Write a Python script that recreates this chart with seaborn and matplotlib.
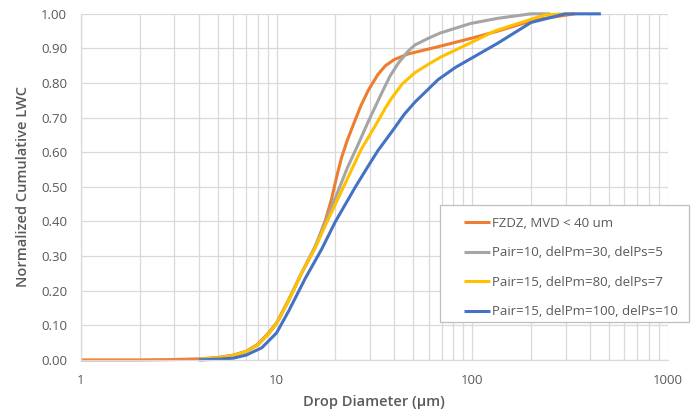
import numpy as np
import pandas as pd
import matplotlib
matplotlib.use("Agg")
import matplotlib.pyplot as plt
from matplotlib.patches import Rectangle
from matplotlib.ticker import LogLocator, FixedLocator, FuncFormatter, NullFormatter
import seaborn as sns

# Cumulative liquid water content vs. drop diameter (µm)
series_names = [
    "FZDZ, MVD < 40 um",
    "Pair=10, delPm=30, delPs=5",
    "Pair=15, delPm=80, delPs=7",
    "Pair=15, delPm=100, delPs=10",
]

fzdz_d = [1, 2, 3, 4, 5, 6, 7, 8, 9, 10, 11.5, 13.4, 15.8, 17.8, 19.1, 20.3,
          21.5, 23, 24.7, 27, 29.5, 33, 36, 40, 47, 67, 100, 135, 210, 335]
fzdz_lwc = [0, 0, 0.001, 0.003, 0.007, 0.014, 0.025, 0.045, 0.075, 0.107, 0.173,
            0.25, 0.327, 0.405, 0.465, 0.53, 0.585, 0.635, 0.68, 0.735, 0.78,
            0.825, 0.85, 0.868, 0.884, 0.905, 0.93, 0.95, 0.983, 1.0]

p10_d = [4, 5, 6, 7, 8, 9, 10, 11.5, 13.4, 15.8, 17.8, 20.7, 23, 26, 29.5,
         34.4, 38, 42, 47, 51, 60, 69, 98, 135, 200, 250]
p10_lwc = [0.002, 0.006, 0.013, 0.024, 0.043, 0.072, 0.105, 0.17, 0.25, 0.33,
           0.40, 0.49, 0.555, 0.62, 0.69, 0.77, 0.82, 0.858, 0.892, 0.91,
           0.93, 0.945, 0.972, 0.987, 1.0, 1.0]

p15a_d = [4, 5, 6, 7, 8, 9, 10, 11.5, 13.4, 15.8, 17.8, 22, 27, 33, 36, 38.6,
          44, 51, 60, 69, 98, 130, 235, 300]
p15a_lwc = [0.002, 0.006, 0.013, 0.024, 0.043, 0.072, 0.105, 0.17, 0.25, 0.325,
            0.39, 0.50, 0.607, 0.69, 0.728, 0.755, 0.798, 0.83, 0.855, 0.875,
            0.916, 0.95, 0.997, 1.0]

p15b_d = [4, 5, 6, 7, 8.4, 10, 11.5, 14, 17, 20, 25.3, 30, 33, 39.5, 45, 51,
          67, 82, 98, 135, 200, 300, 455]
p15b_lwc = [0, 0.002, 0.005, 0.014, 0.035, 0.078, 0.14, 0.235, 0.32, 0.40,
            0.50, 0.568, 0.605, 0.665, 0.71, 0.745, 0.81, 0.845, 0.87, 0.915,
            0.975, 1.0, 1.0]

line_colors = ["#ED7D31", "#A5A5A5", "#FFC000", "#4472C4"]

y_ticks = [0.0, 0.1, 0.2, 0.3, 0.4, 0.5, 0.6, 0.7, 0.8, 0.9, 1.0]
x_ticks = [1, 10, 100, 1000]

frames = []
for name, d, v in zip(series_names,
                      [fzdz_d, p10_d, p15a_d, p15b_d],
                      [fzdz_lwc, p10_lwc, p15a_lwc, p15b_lwc]):
    frames.append(pd.DataFrame({"diameter": d, "lwc": v, "series": name}))
df = pd.concat(frames, ignore_index=True)

sns.set_theme(style="white")
plt.rcParams["font.family"] = ["Open Sans", "DejaVu Sans"]

text_gray = "#595959"
grid_gray = "#D9D9D9"

fig = plt.figure(figsize=(6.92, 4.19), dpi=100)
ax = fig.add_axes([0.117, 0.141, 0.848, 0.826])

sns.lineplot(data=df, x="diameter", y="lwc", hue="series",
             hue_order=series_names, palette=line_colors,
             estimator=None, linewidth=2.2, ax=ax, legend=True)
for ln in ax.lines:
    ln.set_clip_on(False)
    ln.set_solid_capstyle("butt")
    ln.set_solid_joinstyle("round")

ax.set_xscale("log")
ax.set_xlim(1, 1000)
ax.set_ylim(0, 1.0)

ax.xaxis.set_major_locator(FixedLocator(x_ticks))
ax.xaxis.set_major_formatter(FuncFormatter(lambda v, p: f"{int(round(v))}"))
ax.xaxis.set_minor_locator(LogLocator(base=10, subs=np.arange(2, 10)))
ax.xaxis.set_minor_formatter(NullFormatter())
ax.yaxis.set_major_locator(FixedLocator(y_ticks))
ax.yaxis.set_major_formatter(FuncFormatter(lambda v, p: f"{v:.2f}"))

ax.grid(True, which="major", axis="both", color=grid_gray, linewidth=0.9)
ax.grid(True, which="minor", axis="x", color=grid_gray, linewidth=0.9)
ax.set_axisbelow(True)

for side in ["top", "right"]:
    ax.spines[side].set_visible(False)
for side in ["left", "bottom"]:
    ax.spines[side].set_color(grid_gray)
    ax.spines[side].set_linewidth(0.9)

ax.tick_params(axis="both", which="both", length=0, colors=text_gray,
               labelsize=9.5)
ax.tick_params(axis="x", pad=10)
ax.tick_params(axis="y", pad=10)

ax.set_xlabel("Drop Diameter (\u03bcm)", color=text_gray, fontsize=10.5,
              fontweight="semibold", labelpad=6)
ax.set_ylabel("Normalized Cumulative LWC", color=text_gray, fontsize=10.5,
              fontweight="semibold", labelpad=8)

# Legend box with its own frame
fig.patches.append(Rectangle((0.636, 0.232), 0.360, 0.279,
                             transform=fig.transFigure, facecolor="white",
                             edgecolor="#BFBFBF", linewidth=0.9, zorder=5))
handles, labels = ax.get_legend_handles_labels()
ax.legend_.remove()
leg = fig.legend(handles, labels, loc="upper left",
                 bbox_to_anchor=(0.655, 0.508), frameon=False,
                 fontsize=9.5, labelcolor=text_gray, handlelength=2.0,
                 handletextpad=0.1, labelspacing=1.25, borderpad=0.3)
leg.set_zorder(6)

fig.savefig("out.png", dpi=100, facecolor="white")
